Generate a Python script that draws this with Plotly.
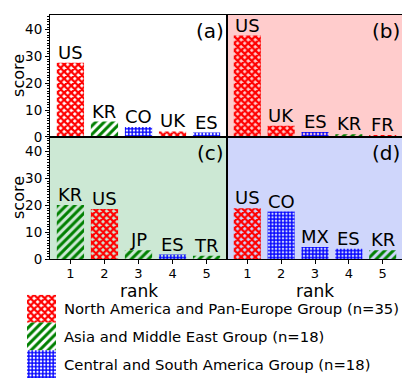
import plotly.graph_objects as go

# ---------------- data ----------------
ranks = [1, 2, 3, 4, 5]
a_countries = ["US", "KR", "CO", "UK", "ES"]
a_scores = [27.7, 5.7, 3.7, 2.0, 1.6]
b_countries = ["US", "UK", "ES", "KR", "FR"]
b_scores = [37.8, 4.1, 1.8, 1.0, 0.5]
c_countries = ["KR", "US", "JP", "ES", "TR"]
c_scores = [20.1, 18.7, 3.3, 1.7, 1.3]
d_countries = ["US", "CO", "MX", "ES", "KR"]
d_scores = [18.9, 17.7, 4.5, 3.9, 3.3]
panel_labels = ["(a)", "(b)", "(c)", "(d)"]
y_ticks = [0, 10, 20, 30, 40]

group_names = [
    "North America and Pan-Europe Group (n=35)",
    "Asia and Middle East Group (n=18)",
    "Central and South America Group (n=18)",
]
group_members = [["US", "UK", "FR"], ["KR", "JP", "TR"], ["CO", "ES", "MX"]]

# ---------------- styles ----------------
FONT = "DejaVu Sans"
group_colors = ["#ff0000", "#008000", "#0000ff"]
group_shapes = ["x", "/", "+"]
group_sizes = [5, 6, 3.5]
group_solidity = [0.7, 0.5, 0.65]
panel_bg = ["rgba(0,0,0,0)", "#ffcccc", "#cce8d4", "#cfd6fb"]
YMAX = 45.5

W, H = 410, 386
ml, mr, mt, mb = 19, 15, 7, 6
pw, ph = W - ml - mr, H - mt - mb


def px_x(p):
    return (p - ml) / pw


def px_y(p):
    return (H - mb - p) / ph


xa = [px_x(42), px_x(219)]
xb = [px_x(219), px_x(395)]
ytop = [px_y(131.5), px_y(7)]
ybot = [px_y(256.5), px_y(131.5)]

panels = [
    (a_countries, a_scores, "x", "y", xa, ytop),
    (b_countries, b_scores, "x2", "y2", xb, ytop),
    (c_countries, c_scores, "x3", "y3", xa, ybot),
    (d_countries, d_scores, "x4", "y4", xb, ybot),
]


def group_of(c):
    for i, m in enumerate(group_members):
        if c in m:
            return i
    return 0


fig = go.Figure()
annotations = []
shapes = []

for k, (countries, scores, xr, yr, dx, dy) in enumerate(panels):
    gi = [group_of(c) for c in countries]
    fig.add_trace(go.Bar(
        x=ranks, y=scores, xaxis=xr, yaxis=yr, width=0.8,
        marker=dict(
            color=[group_colors[g] for g in gi],
            line=dict(width=0),
            pattern=dict(
                shape=[group_shapes[g] for g in gi],
                size=[group_sizes[g] for g in gi],
                solidity=[group_solidity[g] for g in gi],
                fillmode="replace",
            ),
        ),
        showlegend=False, hoverinfo="skip",
    ))
    for r, c, s in zip(ranks, countries, scores):
        inside = s + 7 > YMAX
        annotations.append(dict(
            x=r, y=s, xref=xr, yref=yr, text=c, showarrow=False,
            font=dict(family=FONT, size=18, color="black"),
            yanchor="top" if inside else "bottom",
            yshift=3 if inside else -2,
        ))
    annotations.append(dict(
        x=1, y=1, xref=xr + " domain", yref=yr + " domain", text=panel_labels[k],
        showarrow=False, xanchor="right", yanchor="top", xshift=-1, yshift=-2,
        font=dict(family=FONT, size=20, color="black"),
    ))
    shapes.append(dict(
        type="rect", xref=xr + " domain", yref=yr + " domain", x0=0, x1=1, y0=0, y1=1,
        fillcolor=panel_bg[k], line=dict(width=0), layer="below",
    ))
    if xr in ("x", "x3"):
        annotations.append(dict(
            x=0, y=0.5, xref=xr + " domain", yref=yr + " domain", text="score",
            showarrow=False, textangle=-90, xanchor="center", yanchor="middle",
            xshift=-31, font=dict(family=FONT, size=16, color="black"),
        ))
    if xr in ("x3", "x4"):
        annotations.append(dict(
            x=0.5, y=0, xref=xr + " domain", yref=yr + " domain", text="rank",
            showarrow=False, xanchor="center", yanchor="middle",
            yshift=-32, font=dict(family=FONT, size=17, color="black"),
        ))

# legend patches as a tiny bar chart
fig.add_trace(go.Bar(
    x=[1, 1, 1], y=[0, 1, 2], orientation="h", width=1, xaxis="x5", yaxis="y5",
    marker=dict(
        color=group_colors, line=dict(width=0),
        pattern=dict(shape=group_shapes, size=group_sizes, solidity=group_solidity,
                     fillmode="replace"),
    ),
    showlegend=False, hoverinfo="skip",
))
for i, name in enumerate(group_names):
    annotations.append(dict(
        x=1, y=i, xref="x5", yref="y5", text=name, showarrow=False,
        xanchor="left", xshift=6, font=dict(family=FONT, size=14.8, color="black"),
    ))

axis_common = dict(showline=True, mirror=True, linecolor="black", linewidth=1,
                   showgrid=False, zeroline=False)
xcommon = dict(range=[0.4, 5.6], tickvals=ranks, **axis_common)
ycommon = dict(range=[0, YMAX], **axis_common)

ytick = dict(ticks="outside", ticklen=4, tickcolor="black", tickvals=y_ticks,
             tickfont=dict(family=FONT, size=13.5, color="black"),
             minor=dict(ticks="outside", dtick=1, ticklen=2, tickcolor="black"))
xtick = dict(ticks="outside", ticklen=4, tickcolor="black", ticklabelstandoff=-2,
             tickfont=dict(family=FONT, size=13, color="black"))

fig.update_layout(
    width=W, height=H,
    margin=dict(l=ml, r=mr, t=mt, b=mb),
    paper_bgcolor="white", plot_bgcolor="white",
    barmode="overlay",
    xaxis=dict(domain=xa, anchor="y", showticklabels=False, ticks="", **xcommon),
    yaxis=dict(domain=ytop, anchor="x", **ytick, **ycommon),
    xaxis2=dict(domain=xb, anchor="y2", showticklabels=False, ticks="", **xcommon),
    yaxis2=dict(domain=ytop, anchor="x2", showticklabels=False, ticks="", **ycommon),
    xaxis3=dict(domain=xa, anchor="y3", **xtick, **xcommon),
    yaxis3=dict(domain=ybot, anchor="x3", **ytick, **ycommon),
    xaxis4=dict(domain=xb, anchor="y4", **xtick, **xcommon),
    yaxis4=dict(domain=ybot, anchor="x4", showticklabels=False, ticks="", **ycommon),
    xaxis5=dict(domain=[px_x(19), px_x(48)], anchor="y5", range=[0, 1], visible=False),
    yaxis5=dict(domain=[px_y(378), px_y(293)], anchor="x5", range=[2.5, -0.5], visible=False),
    annotations=annotations,
    shapes=shapes,
    font=dict(family=FONT),
)

fig.write_html("out.html")
